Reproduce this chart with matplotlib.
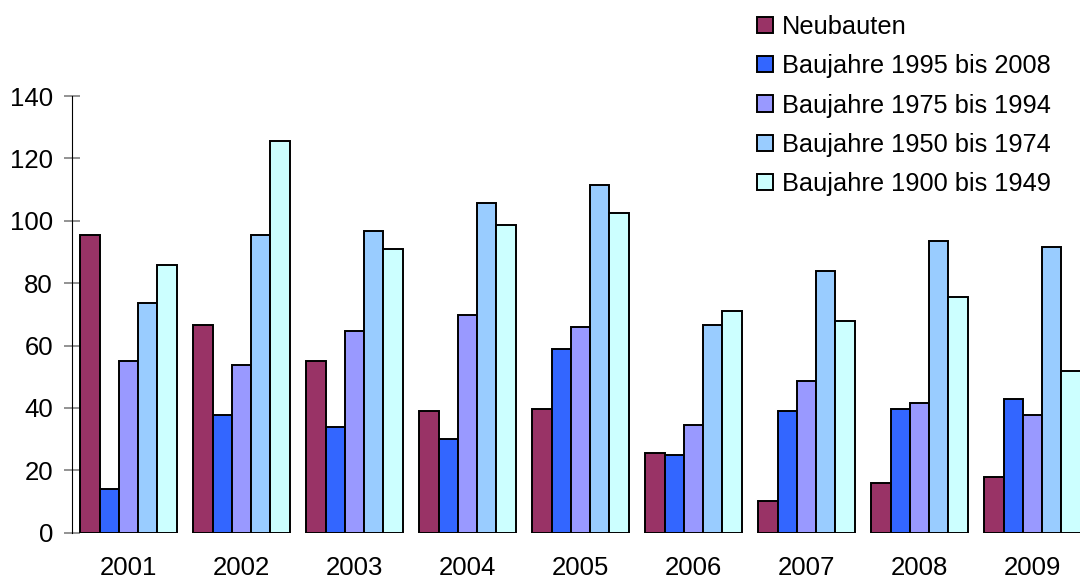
import matplotlib
matplotlib.use("Agg")
import matplotlib.pyplot as plt
import numpy as np

years = ["2001", "2002", "2003", "2004", "2005", "2006", "2007", "2008", "2009"]
series_names = ["Neubauten", "Baujahre 1995 bis 2008", "Baujahre 1975 bis 1994",
                "Baujahre 1950 bis 1974", "Baujahre 1900 bis 1949"]
neubauten = [95.5, 66.6, 55.0, 39.0, 39.6, 25.6, 10.2, 15.9, 18.0]
bj_1995_2008 = [14.0, 37.7, 33.9, 29.9, 59.0, 24.9, 39.0, 39.7, 42.9]
bj_1975_1994 = [55.0, 53.8, 64.8, 69.8, 65.8, 34.5, 48.7, 41.7, 37.7]
bj_1950_1974 = [73.6, 95.4, 96.7, 105.7, 111.4, 66.6, 83.9, 93.5, 91.6]
bj_1900_1949 = [85.9, 125.6, 91.0, 98.6, 102.5, 71.1, 67.9, 75.6, 51.8]
y_ticks = [0, 20, 40, 60, 80, 100, 120, 140]

colors = ["#993366", "#3366FF", "#9999FF", "#99CCFF", "#CCFFFF"]
all_series = [neubauten, bj_1995_2008, bj_1975_1994, bj_1950_1974, bj_1900_1949]

plt.rcParams['font.family'] = ['Liberation Sans', 'DejaVu Sans']

fig = plt.figure(figsize=(10.8, 5.82), dpi=100)
W, H = 1080, 582
left, bottom, top = 72, 49.3, 582 - 96
width = 9 * 113
ax = fig.add_axes([left / W, bottom / H, width / W, (top - bottom) / H])

x = np.arange(len(years))
bw = 0.17
for i, (vals, name, c) in enumerate(zip(all_series, series_names, colors)):
    ax.bar(x + (i - 2) * bw, vals, width=bw, color=c, edgecolor="black",
           linewidth=1.4, label=name, zorder=3)

ax.set_xlim(-0.5, len(years) - 0.5)
ax.set_ylim(0, 140)
ax.set_yticks(y_ticks)
ax.set_xticks(x)
ax.set_xticklabels(years)

for s in ["top", "right", "bottom"]:
    ax.spines[s].set_visible(False)
ax.spines["left"].set_color("black")
ax.spines["left"].set_linewidth(0.8)

ax.tick_params(axis="y", direction="inout", length=12.2, width=1.2, color="#808080",
               labelsize=18.5, pad=7.5)
ax.tick_params(axis="x", length=0, labelsize=18.5, pad=17)

leg = fig.legend(loc="upper left", bbox_to_anchor=(756.7 / W, 1 - 15 / H),
                 frameon=False, fontsize=18.3, borderpad=0, borderaxespad=0,
                 handlelength=0.66, handleheight=0.6, handletextpad=0.35,
                 labelspacing=0.6)
for h in leg.legend_handles:
    h.set_linewidth(1.4)

fig.savefig("out.png", dpi=100)
